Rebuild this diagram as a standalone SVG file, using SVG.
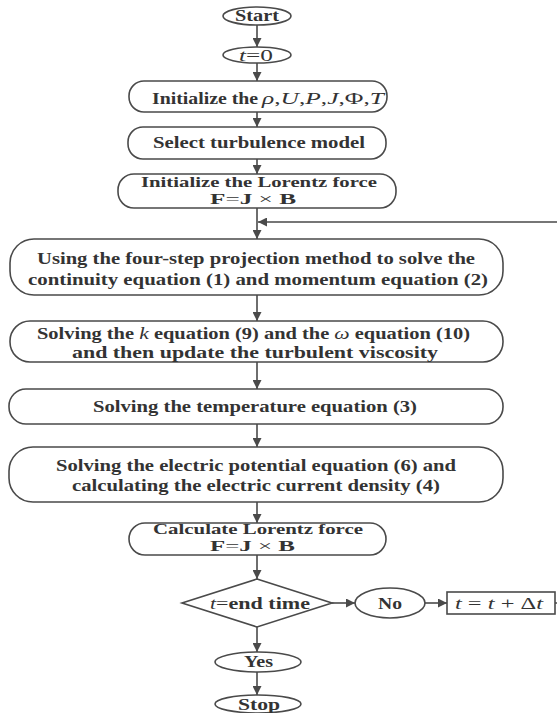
<svg xmlns="http://www.w3.org/2000/svg" width="557" height="713" viewBox="0 0 557 713">
<style>
.shape{fill:#fff;stroke:#4a4a4a;stroke-width:1.6}
.b{font-family:"Liberation Serif",serif;font-weight:bold;font-size:16px;fill:#333}
.s{font-size:14px}
.m{font-family:"Liberation Serif",serif;font-size:17px;fill:#333}
.f{font-size:15px}
.i{font-style:italic}
.bf{font-weight:bold}
.nb{font-weight:normal}
.con{fill:none;stroke:#4a4a4a;stroke-width:1.6}
</style>
<defs>
<marker id="ah2" viewBox="0 0 10 10" refX="10" refY="5" markerWidth="9" markerHeight="9" orient="auto" markerUnits="userSpaceOnUse">
<path d="M0,0 L10,5 L0,10 z" fill="#4a4a4a"/>
</marker>
</defs>
<rect width="557" height="713" fill="#fff"/>
<g id="connectors">
<path class="con" d="M257,25 V47" marker-end="url(#ah2)"/>
<path class="con" d="M257,63 V81" marker-end="url(#ah2)"/>
<path class="con" d="M257,112 V127" marker-end="url(#ah2)"/>
<path class="con" d="M257,159 V174" marker-end="url(#ah2)"/>
<path class="con" d="M257,208 V239" marker-end="url(#ah2)"/>
<path class="con" d="M555,603 H575 V222 H258" marker-end="url(#ah2)"/>
<path class="con" d="M257,295 V321" marker-end="url(#ah2)"/>
<path class="con" d="M257,362 V389" marker-end="url(#ah2)"/>
<path class="con" d="M257,424 V447" marker-end="url(#ah2)"/>
<path class="con" d="M257,502 V523" marker-end="url(#ah2)"/>
<path class="con" d="M257,555 V579" marker-end="url(#ah2)"/>
<path class="con" d="M332,603 H355" marker-end="url(#ah2)"/>
<path class="con" d="M425,603 H447" marker-end="url(#ah2)"/>
<path class="con" d="M257,627 V652" marker-end="url(#ah2)"/>
<path class="con" d="M257,672 V695" marker-end="url(#ah2)"/>
</g>
<g id="start">
<ellipse class="shape" cx="257" cy="16" rx="34" ry="9"/>
<text class="b" x="235" y="21" textLength="44" lengthAdjust="spacingAndGlyphs">Start</text>
</g>
<g id="t0">
<ellipse class="shape" cx="257" cy="55" rx="34" ry="8"/>
<text class="m" x="239" y="61" textLength="34" lengthAdjust="spacingAndGlyphs"><tspan class="i">t</tspan>=0</text>
</g>
<g id="init">
<rect class="shape" x="129" y="81" width="258" height="31" rx="15"/>
<text class="b" x="152" y="104" textLength="106" lengthAdjust="spacingAndGlyphs">Initialize the</text>
<text class="m" x="262" y="104" textLength="122" lengthAdjust="spacingAndGlyphs"><tspan class="i">ρ</tspan>,<tspan class="i">U</tspan>,<tspan class="i">P</tspan>,<tspan class="i">J</tspan>,Φ,<tspan class="i">T</tspan></text>
</g>
<g id="select">
<rect class="shape" x="128" y="127" width="258" height="32" rx="15"/>
<text class="b" x="153" y="148" textLength="212" lengthAdjust="spacingAndGlyphs">Select turbulence model</text>
</g>
<g id="lorentz-init">
<rect class="shape" x="118" y="174" width="278" height="34" rx="16"/>
<text class="b s" x="141" y="187" textLength="236" lengthAdjust="spacingAndGlyphs">Initialize the Lorentz force</text>
<text class="m f" x="210" y="204" textLength="86" lengthAdjust="spacingAndGlyphs"><tspan class="bf">F</tspan>=<tspan class="bf">J</tspan> × <tspan class="bf">B</tspan></text>
</g>
<g id="projection">
<rect class="shape" x="10" y="239" width="493" height="56" rx="24"/>
<text class="b" x="37" y="264" textLength="438" lengthAdjust="spacingAndGlyphs">Using the four-step projection method to solve the</text>
<text class="b" x="28" y="285" textLength="460" lengthAdjust="spacingAndGlyphs">continuity equation (1) and momentum equation (2)</text>
</g>
<g id="k-omega">
<rect class="shape" x="10" y="321" width="493" height="41" rx="20"/>
<text class="b" x="37" y="339" textLength="433" lengthAdjust="spacingAndGlyphs">Solving the <tspan class="i nb" font-size="17">k</tspan> equation (9) and the <tspan class="i nb" font-size="17">ω</tspan> equation (10)</text>
<text class="b" x="72" y="358" textLength="366" lengthAdjust="spacingAndGlyphs">and then update the turbulent viscosity</text>
</g>
<g id="temperature">
<rect class="shape" x="9" y="389" width="494" height="35" rx="17"/>
<text class="b" x="93" y="412" textLength="324" lengthAdjust="spacingAndGlyphs">Solving the temperature equation (3)</text>
</g>
<g id="electric">
<rect class="shape" x="9" y="447" width="494" height="55" rx="24"/>
<text class="b" x="56" y="471" textLength="400" lengthAdjust="spacingAndGlyphs">Solving the electric potential equation (6) and</text>
<text class="b" x="72" y="491" textLength="368" lengthAdjust="spacingAndGlyphs">calculating the electric current density (4)</text>
</g>
<g id="lorentz-calc">
<rect class="shape" x="129" y="523" width="257" height="32" rx="16"/>
<text class="b s" x="153" y="534" textLength="210" lengthAdjust="spacingAndGlyphs">Calculate Lorentz force</text>
<text class="m f" x="210" y="551" textLength="85" lengthAdjust="spacingAndGlyphs"><tspan class="bf">F</tspan>=<tspan class="bf">J</tspan> × <tspan class="bf">B</tspan></text>
</g>
<g id="decision">
<polygon class="shape" points="257,579 332,603 257,627 182,603"/>
<text class="m" x="210" y="609" textLength="100" lengthAdjust="spacingAndGlyphs"><tspan class="i">t</tspan>=<tspan class="bf">end time</tspan></text>
</g>
<g id="no">
<ellipse class="shape" cx="390" cy="603" rx="35" ry="15"/>
<text class="b" x="378" y="609" textLength="24" lengthAdjust="spacingAndGlyphs">No</text>
</g>
<g id="increment">
<rect class="shape" x="447" y="592" width="108" height="22"/>
<text class="m" x="455" y="609" font-size="18" textLength="88" lengthAdjust="spacingAndGlyphs"><tspan class="i">t</tspan> = <tspan class="i">t</tspan> + Δ<tspan class="i">t</tspan></text>
</g>
<g id="yes">
<ellipse class="shape" cx="258" cy="662" rx="43" ry="10"/>
<text class="b" x="244" y="667" textLength="29" lengthAdjust="spacingAndGlyphs">Yes</text>
</g>
<g id="stop">
<ellipse class="shape" cx="258" cy="704" rx="43" ry="9"/>
<text class="b" x="238" y="710" textLength="42" lengthAdjust="spacingAndGlyphs">Stop</text>
</g>
</svg>
